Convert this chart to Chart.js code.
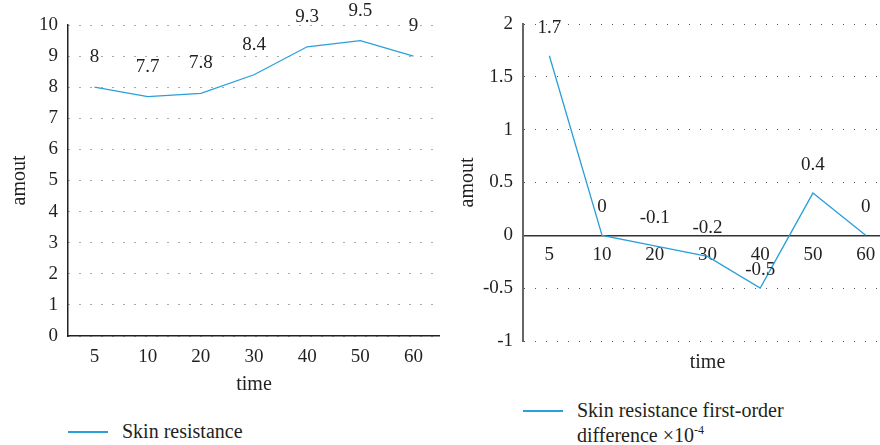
<!DOCTYPE html>
<html>
<head>
<meta charset="utf-8">
<script src="https://cdn.jsdelivr.net/npm/chart.js@4.4.1/dist/chart.umd.min.js"></script>
<style>
  html, body { margin: 0; padding: 0; background: #fff; }
  body { width: 880px; height: 445px; position: relative; overflow: hidden; font-family: "Liberation Serif", serif; color: #231f20; }
  .box { position: absolute; top: 0; }
  .leg-line { position: absolute; width: 40px; height: 1.5px; background: #2a9fd8; }
  .leg-text { position: absolute; font-size: 20px; line-height: 25px; white-space: nowrap; }
  .leg-text sup { font-size: 12px; line-height: 0; }
</style>
</head>
<body>
<div class="box" style="left:0;width:440px;height:401px"><canvas id="left" width="440" height="401"></canvas></div>
<div class="box" style="left:440px;width:452px;height:379px"><canvas id="right" width="452" height="379"></canvas></div>

<div class="leg-line" style="left:68px;top:431px"></div>
<div class="leg-text" style="left:122px;top:419px">Skin resistance</div>
<div class="leg-line" style="left:523px;top:410px"></div>
<div class="leg-text" style="left:577px;top:398px">Skin resistance first-order<br>difference ×10<sup>-4</sup></div>

<script>
const times = ["5", "10", "20", "30", "40", "50", "60"];
const resistance = [8, 7.7, 7.8, 8.4, 9.3, 9.5, 9];
const resistanceDiff = [1.7, 0, -0.1, -0.2, -0.5, 0.4, 0];

const textColor = "#231f20";
const lineColor = "#2a9fd8";
const serif = "'Liberation Serif', serif";

// draws the value over each point
const valueLabels = {
  id: "valueLabels",
  afterDatasetsDraw(chart, args, opts) {
    const ctx = chart.ctx;
    const meta = chart.getDatasetMeta(0);
    const values = chart.data.datasets[0].data;
    ctx.save();
    ctx.font = "19px " + serif;
    ctx.fillStyle = textColor;
    ctx.textAlign = "center";
    ctx.textBaseline = "middle";
    meta.data.forEach((pt, i) => {
      // the lowest label sits a bit closer so it clears the axis labels
      const off = values[i] < -0.3 ? 18 : opts.offset;
      ctx.fillText(String(values[i]), pt.x, pt.y - off);
    });
    ctx.restore();
  },
};

const dotted = {
  color: "#555",
  lineWidth: 1,
  drawTicks: false,
};

const tickFont = { family: serif, size: 19 };
const titleFont = { family: serif, size: 20 };

const leftChart = new Chart(document.getElementById("left"), {
  type: "line",
  data: {
    labels: times,
    datasets: [
      {
        label: "Skin resistance",
        data: resistance,
        borderColor: lineColor,
        borderWidth: 1.3,
        pointRadius: 0,
        tension: 0,
      },
    ],
  },
  options: {
    responsive: false,
    animation: false,
    layout: { padding: { top: 25, right: 0, left: 0, bottom: 0 } },
    plugins: {
      legend: { display: false },
      tooltip: { enabled: false },
      valueLabels: { offset: 30 },
    },
    scales: {
      x: {
        offset: true,
        grid: { display: false, drawTicks: false },
        border: { display: true, color: "#222", width: 1.5 },
        ticks: { color: textColor, font: tickFont, padding: 10 },
        title: { display: true, text: "time", color: textColor, font: titleFont, padding: { top: 4, bottom: 4 } },
        afterFit: (s) => { s.height = 65; },
      },
      y: {
        min: 0,
        max: 10,
        ticks: { stepSize: 1, color: textColor, font: tickFont, padding: 10 },
        grid: dotted,
        border: { display: true, color: "#222", width: 1.5, dash: [1, 10] },
        title: { display: true, text: "amout", color: textColor, font: titleFont, padding: { top: 8, bottom: 0 } },
        afterFit: (s) => { s.width = 68; },
      },
    },
  },
  plugins: [valueLabels],
});

const rightChart = new Chart(document.getElementById("right"), {
  type: "line",
  data: {
    labels: times,
    datasets: [
      {
        label: "Skin resistance first-order difference",
        data: resistanceDiff,
        borderColor: lineColor,
        borderWidth: 1.3,
        pointRadius: 0,
        tension: 0,
      },
    ],
  },
  options: {
    responsive: false,
    animation: false,
    layout: { padding: { top: 24, right: 0, left: 0, bottom: 0 } },
    plugins: {
      legend: { display: false },
      tooltip: { enabled: false },
      valueLabels: { offset: 28 },
    },
    scales: {
      x: {
        position: { y: 0 },
        offset: true,
        grid: { display: false, drawTicks: false },
        border: { display: true, color: "#333", width: 1.5 },
        ticks: { color: textColor, font: tickFont, padding: 8 },
        afterFit: (s) => { s.height = 0; },
      },
      x2: {
        type: "category",
        position: "bottom",
        offset: true,
        grid: { display: false, drawTicks: false },
        border: { display: false },
        ticks: { display: false },
        title: { display: true, text: "time", color: textColor, font: titleFont, padding: { top: 4, bottom: 4 } },
        afterFit: (s) => { s.height = 38; },
      },
      y: {
        min: -1,
        max: 2,
        ticks: {
          stepSize: 0.5,
          color: textColor,
          font: tickFont,
          padding: 10,
          callback: (v) => String(v),
        },
        grid: dotted,
        border: { display: true, color: "#666", width: 2, dash: [1, 10] },
        title: { display: true, text: "amout", color: textColor, font: titleFont, padding: { top: 16, bottom: 0 } },
        afterFit: (s) => { s.width = 83; },
      },
    },
  },
  plugins: [valueLabels],
});
</script>
</body>
</html>
